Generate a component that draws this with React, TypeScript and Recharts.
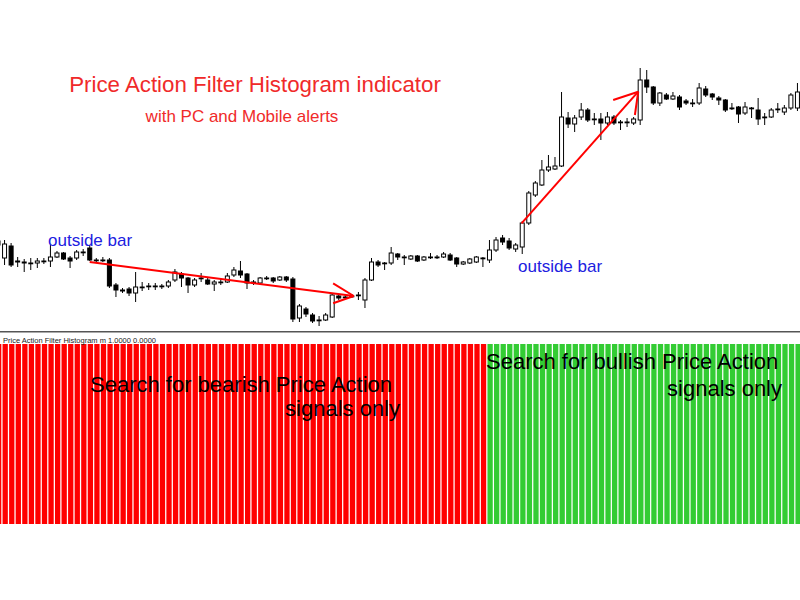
import { Bar, BarChart, ComposedChart, ReferenceLine, XAxis, YAxis } from 'recharts';

// price in points, one entry per bar (123 bars on screen)
const opens = [
  91, 74, 86, 71, 69, 69, 69, 71, 71, 75,
  79, 74, 74, 80, 84, 72, 72, 72, 47, 42,
  43, 39, 45, 46, 46, 46, 46, 52, 58, 54,
  47, 54, 52, 48, 50, 50, 57, 61, 58, 50,
  49, 54, 54, 52, 55, 53, 14, 23, 17, 12,
  12, 15, 36, 35, 36, 37, 32, 52, 70, 69,
  69, 78, 75, 73, 76, 72, 75, 75, 75, 77,
  74, 68, 69, 70, 74, 72, 82, 94, 91, 83,
  85, 109, 137, 147, 162, 163, 166, 214, 208, 215,
  222, 213, 213, 209, 215, 210, 210, 209, 212, 252,
  245, 229, 237, 233, 235, 231, 229, 229, 243, 238,
  234, 232, 224, 225, 219, 224, 222, 215, 215, 223,
  220, 224, 224,
];

const highs = [
  93, 92, 89, 75, 73, 74, 74, 74, 87, 81,
  80, 76, 82, 83, 87, 74, 75, 74, 49, 44,
  45, 60, 50, 49, 49, 48, 52, 63, 60, 55,
  54, 59, 54, 52, 54, 59, 65, 71, 59, 52,
  55, 56, 55, 56, 56, 55, 28, 25, 19, 16,
  19, 39, 38, 37, 38, 40, 54, 74, 72, 70,
  85, 79, 77, 77, 77, 76, 79, 77, 80, 79,
  75, 71, 74, 76, 75, 92, 95, 97, 94, 89,
  111, 141, 151, 172, 177, 175, 240, 220, 217, 229,
  224, 219, 219, 220, 217, 212, 214, 215, 264, 262,
  246, 240, 239, 240, 237, 233, 233, 249, 246, 239,
  236, 233, 229, 226, 230, 225, 234, 219, 224, 229,
  227, 239, 249,
];

const lows = [
  85, 67, 65, 65, 60, 62, 64, 68, 65, 74,
  72, 64, 72, 76, 71, 69, 70, 44, 35, 39,
  36, 30, 41, 42, 42, 43, 44, 50, 45, 39,
  45, 50, 47, 41, 47, 49, 55, 54, 43, 47,
  47, 52, 49, 51, 50, 10, 10, 15, 9, 6,
  11, 14, 32, 33, 34, 32, 24, 51, 65, 62,
  67, 72, 67, 72, 70, 71, 73, 73, 74, 71,
  65, 67, 68, 69, 65, 69, 80, 87, 82, 80,
  78, 107, 135, 146, 160, 162, 165, 204, 200, 212,
  210, 207, 192, 207, 207, 202, 205, 207, 207, 239,
  227, 226, 232, 232, 222, 227, 225, 227, 235, 232,
  227, 220, 222, 209, 217, 214, 207, 207, 214, 219,
  217, 222, 221,
];

const closes = [
  87, 88, 67, 70, 70, 69, 71, 71, 75, 79,
  73, 71, 80, 80, 72, 72, 72, 46, 42, 41,
  39, 45, 45, 46, 46, 46, 50, 60, 54, 47,
  52, 54, 48, 50, 50, 56, 62, 57, 49, 50,
  54, 54, 51, 55, 52, 13, 26, 18, 11, 12,
  17, 37, 34, 35, 36, 37, 52, 70, 67, 69,
  79, 75, 75, 76, 71, 75, 75, 75, 78, 72,
  68, 70, 73, 75, 74, 82, 92, 90, 84, 87,
  109, 139, 149, 162, 165, 166, 215, 208, 214, 222,
  212, 213, 209, 215, 209, 210, 210, 213, 252, 245,
  229, 239, 233, 236, 225, 229, 229, 244, 237, 235,
  232, 222, 224, 218, 225, 224, 213, 215, 222, 223,
  224, 237, 240,
];

// indicator buffers: 1 = filter active
const bearishSignal = [
  1, 1, 1, 1, 1, 1, 1, 1, 1, 1,
  1, 1, 1, 1, 1, 1, 1, 1, 1, 1,
  1, 1, 1, 1, 1, 1, 1, 1, 1, 1,
  1, 1, 1, 1, 1, 1, 1, 1, 1, 1,
  1, 1, 1, 1, 1, 1, 1, 1, 1, 1,
  1, 1, 1, 1, 1, 1, 1, 1, 1, 1,
  1, 1, 1, 1, 1, 1, 1, 1, 1, 1,
  1, 1, 1, 1, 1, 0, 0, 0, 0, 0,
  0, 0, 0, 0, 0, 0, 0, 0, 0, 0,
  0, 0, 0, 0, 0, 0, 0, 0, 0, 0,
  0, 0, 0, 0, 0, 0, 0, 0, 0, 0,
  0, 0, 0, 0, 0, 0, 0, 0, 0, 0,
  0, 0, 0,
];

const bullishSignal = [
  0, 0, 0, 0, 0, 0, 0, 0, 0, 0,
  0, 0, 0, 0, 0, 0, 0, 0, 0, 0,
  0, 0, 0, 0, 0, 0, 0, 0, 0, 0,
  0, 0, 0, 0, 0, 0, 0, 0, 0, 0,
  0, 0, 0, 0, 0, 0, 0, 0, 0, 0,
  0, 0, 0, 0, 0, 0, 0, 0, 0, 0,
  0, 0, 0, 0, 0, 0, 0, 0, 0, 0,
  0, 0, 0, 0, 0, 1, 1, 1, 1, 1,
  1, 1, 1, 1, 1, 1, 1, 1, 1, 1,
  1, 1, 1, 1, 1, 1, 1, 1, 1, 1,
  1, 1, 1, 1, 1, 1, 1, 1, 1, 1,
  1, 1, 1, 1, 1, 1, 1, 1, 1, 1,
  1, 1, 1,
];

// hand-drawn arrows, [bar index, price]
const arrowSegments = [
  [[13.95, 70], [54.25, 36]],
  [[51.1, 48.7], [54.25, 36]],
  [[51.1, 28.7], [54.25, 36]],
  [[79.85, 108.7], [97.66, 240.3]],
  [[93.84, 232], [97.66, 240.3]],
  [[97.15, 217], [97.66, 240.3]],
];

const candles = opens.map((open, i) => ({
  idx: i,
  open,
  high: highs[i],
  low: lows[i],
  close: closes[i],
}));

const histogram = bearishSignal.map((bear, i) => ({ idx: i, bear, bull: bullishSignal[i] }));

const CHART_W = 806;
const CHART_LEFT = -4.6;
const X_DOMAIN: [number, number] = [-0.5, opens.length - 0.5];

const Candle = (props: any) => {
  const { x, y, width, height, payload } = props;
  if (payload == null || !height) return null;
  const { open, close, high, low } = payload;
  const ratio = height / (high - low);
  const yOpen = y + (high - open) * ratio;
  const yClose = y + (high - close) * ratio;
  const top = Math.min(yOpen, yClose);
  const bodyH = Math.max(Math.abs(yOpen - yClose), 0.8);
  const cx = x + width / 2;
  return (
    <g>
      <line x1={cx} x2={cx} y1={y} y2={y + height} stroke="#000" strokeWidth={1} />
      <rect
        x={x}
        y={top}
        width={width}
        height={bodyH}
        fill={close >= open ? '#fff' : '#000'}
        stroke="#000"
        strokeWidth={1}
      />
    </g>
  );
};

const font = '"Liberation Sans", Arial, sans-serif';

export default function App() {
  return (
    <div
      style={{
        position: 'absolute',
        left: 0,
        top: 0,
        width: 800,
        height: 600,
        overflow: 'hidden',
        background: '#fff',
      }}
    >
      <div style={{ position: 'absolute', left: CHART_LEFT, top: 0 }}>
        <ComposedChart
          width={CHART_W}
          height={332}
          data={candles}
          margin={{ top: 0, right: 0, left: 0, bottom: 0 }}
        >
          <XAxis dataKey="idx" type="number" domain={X_DOMAIN} hide />
          <YAxis type="number" domain={[0, 332]} hide />
          <Bar
            dataKey={(d: any) => [d.low, d.high]}
            barSize={4}
            shape={Candle}
            isAnimationActive={false}
          />
          {arrowSegments.map((seg, i) => (
            <ReferenceLine
              key={i}
              segment={[
                { x: seg[0][0], y: seg[0][1] },
                { x: seg[1][0], y: seg[1][1] },
              ]}
              stroke="#f00"
              strokeWidth={2}
              ifOverflow="visible"
            />
          ))}
        </ComposedChart>
      </div>

      <div
        style={{
          position: 'absolute',
          left: 0,
          top: 331,
          width: 800,
          height: 1,
          background: '#555',
          borderBottom: '1px solid #aaa',
        }}
      />

      <div style={{ position: 'absolute', left: CHART_LEFT, top: 344 }}>
        <BarChart
          width={CHART_W}
          height={180}
          data={histogram}
          margin={{ top: 0, right: 0, left: 0, bottom: 0 }}
        >
          <XAxis dataKey="idx" type="number" domain={X_DOMAIN} hide />
          <YAxis type="number" domain={[0, 1]} hide />
          <Bar dataKey="bear" stackId="sig" fill="#ff0000" barSize={5.3} isAnimationActive={false} />
          <Bar dataKey="bull" stackId="sig" fill="#33cc33" barSize={5.3} isAnimationActive={false} />
        </BarChart>
      </div>

      <svg
        width={800}
        height={600}
        style={{ position: 'absolute', left: 0, top: 0, pointerEvents: 'none' }}
        fontFamily={font}
      >
        <text x={255} y={92} fontSize={22.3} fill="#f02a2a" textAnchor="middle">
          Price Action Filter Histogram indicator
        </text>
        <text x={242} y={122} fontSize={17} fill="#f02a2a" textAnchor="middle">
          with PC and Mobile alerts
        </text>
        <text x={48} y={246} fontSize={17} fill="#2020e0">
          outside bar
        </text>
        <text x={518} y={272} fontSize={17} fill="#2020e0">
          outside bar
        </text>
        <text x={3} y={343} fontSize={7.5} fill="#222">
          Price Action Filter Histogram m 1.0000 0.0000
        </text>
        <text x={90} y={392} fontSize={22} fill="#000">
          Search for bearish Price Action
        </text>
        <text x={400} y={416} fontSize={22} fill="#000" textAnchor="end">
          signals only
        </text>
        <text x={486} y={369} fontSize={22} fill="#000">
          Search for bullish Price Action
        </text>
        <text x={782} y={396} fontSize={22} fill="#000" textAnchor="end">
          signals only
        </text>
      </svg>
    </div>
  );
}
